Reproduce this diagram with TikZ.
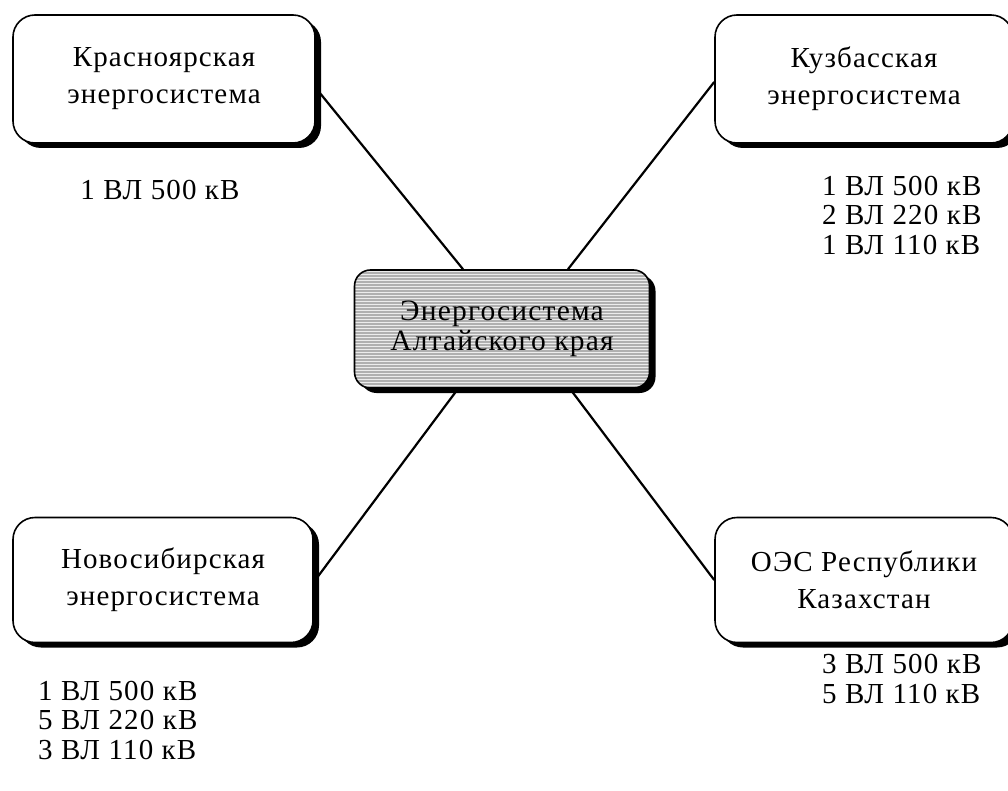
\documentclass[tikz,border=0pt]{standalone}
\usepackage{fontspec}
\setmainfont{Liberation Serif}[LetterSpace=4]
\usetikzlibrary{shadows,patterns}

\tikzset{
  sysbox/.style={draw=black, line width=1.6pt, rounded corners=22pt, fill=white,
    align=center, inner sep=0pt,
    font=\fontsize{29}{37}\selectfont,
    drop shadow={shadow xshift=6pt, shadow yshift=-5pt, opacity=1, fill=black}},
  hubbox/.style={sysbox, rounded corners=16pt,
    preaction={fill=gray!62}, pattern=horizontal lines, pattern color=white!85!gray,
    font=\fontsize{29.5}{30}\selectfont},
  lines/.style={align=left, inner sep=0pt, font=\fontsize{29}{29.5}\selectfont},
  wire/.style={draw=black, line width=2.2pt},
}

\begin{document}
\begin{tikzpicture}[x=1pt, y=-1pt]
  \useasboundingbox (0,0) rectangle (1008,791);
  \clip (0,0) rectangle (1008,791);
  \fill[white] (0,0) rectangle (1008,791);

  % power systems
  \node[sysbox, minimum width=302pt, minimum height=128pt] (tl) at (164,79)
    {Красноярская\\энергосистема};
  \node[sysbox, minimum width=298pt, minimum height=128pt] (tr) at (864,79)
    {Кузбасская\\энергосистема};
  \node[sysbox, minimum width=300pt, minimum height=125pt] (bl) at (163,580)
    {Новосибирская\\энергосистема};
  \node[sysbox, minimum width=298pt, minimum height=125pt] (br) at (864,580)
    {ОЭС Республики\\Казахстан};
  \node[hubbox, minimum width=295pt, minimum height=118pt] (c) at (502,329)
    {Энергосистема\\Алтайского края};

  % tie lines
  \draw[wire] (tl.east |- 0,88) -- (c.north -| 463,0);
  \draw[wire] (tr.west |- 0,82) -- (c.north -| 568,0);
  \draw[wire] (c.south -| 458,0) -- (bl.east |- 0,582);
  \draw[wire] (c.south -| 570,0) -- (br.west |- 0,580);

  % line counts
  \node[lines] (ltl) at (160,190) {1 ВЛ 500 кВ};
  \node[lines, anchor=west] (ltr) at (822,215)
    {1 ВЛ 500 кВ\\2 ВЛ 220 кВ\\1 ВЛ 110 кВ};
  \node[lines, anchor=west] (lbl) at (38,720)
    {1 ВЛ 500 кВ\\5 ВЛ 220 кВ\\3 ВЛ 110 кВ};
  \node[lines, anchor=west] (lbr) at (822,679)
    {3 ВЛ 500 кВ\\5 ВЛ 110 кВ};
\end{tikzpicture}
\end{document}
